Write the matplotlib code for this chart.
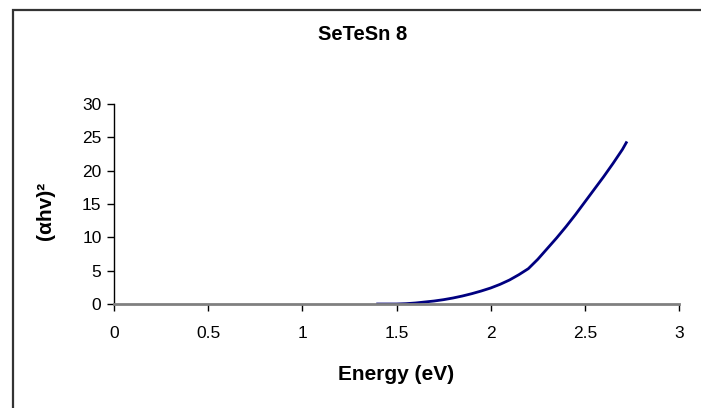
import matplotlib.pyplot as plt
import matplotlib.patches as patches

# data
energy = [1.40, 1.45, 1.50, 1.55, 1.60, 1.65, 1.70, 1.75, 1.80, 1.85, 1.90, 1.95, 2.00, 2.05,
          2.10, 2.15, 2.20, 2.25, 2.30, 2.35, 2.40, 2.45, 2.50, 2.55, 2.60, 2.65, 2.70, 2.72]
ahv_sq = [0.0, 0.0, 0.0, 0.05, 0.15, 0.3, 0.45, 0.65, 0.9, 1.2, 1.55, 1.95, 2.4, 2.95,
          3.6, 4.4, 5.3, 6.7, 8.3, 9.9, 11.6, 13.4, 15.3, 17.2, 19.1, 21.1, 23.2, 24.2]
x_ticks = [0, 0.5, 1, 1.5, 2, 2.5, 3]
x_tick_labels = ['0', '0.5', '1', '1.5', '2', '2.5', '3']
y_ticks = [0, 5, 10, 15, 20, 25, 30]

plt.rcParams['font.family'] = ['Liberation Sans', 'DejaVu Sans']

W, H = 701, 408
fig = plt.figure(figsize=(W / 100, H / 100), dpi=100)

# chart area frame (runs off the right and bottom edges)
frame = patches.Rectangle((13 / W, -0.1), 1.2, 1 - 10 / H + 0.1, transform=fig.transFigure,
                          fill=False, edgecolor='#333333', linewidth=1.6)
fig.patches.append(frame)

ax = fig.add_axes([114 / W, 1 - 304 / H, (679 - 114) / W, 200 / H])
ax.plot(energy, ahv_sq, color='#000080', linewidth=2)

ax.set_xlim(0, 3)
ax.set_ylim(0, 30)
ax.set_xticks(x_ticks)
ax.set_xticklabels(x_tick_labels)
ax.set_yticks(y_ticks)
ax.tick_params(axis='both', direction='out', length=5, width=1, labelsize=12.5, colors='black')
ax.tick_params(axis='x', pad=11)
ax.tick_params(axis='y', pad=4)

for side in ['top', 'right']:
    ax.spines[side].set_visible(False)
ax.spines['left'].set_color('black')
ax.spines['left'].set_linewidth(1)
ax.spines['bottom'].set_color('#808080')
ax.spines['bottom'].set_linewidth(2)

fig.text(363 / W, 1 - 35 / H, 'SeTeSn 8', ha='center', va='center', fontsize=14.5, fontweight='bold')
fig.text(396 / W, 1 - 375 / H, 'Energy (eV)', ha='center', va='center', fontsize=15, fontweight='bold')
fig.text(45 / W, 1 - 211 / H, '(αhv)²', ha='center', va='center', fontsize=15, fontweight='bold',
         rotation=90)

fig.savefig('out.png', dpi=100)
